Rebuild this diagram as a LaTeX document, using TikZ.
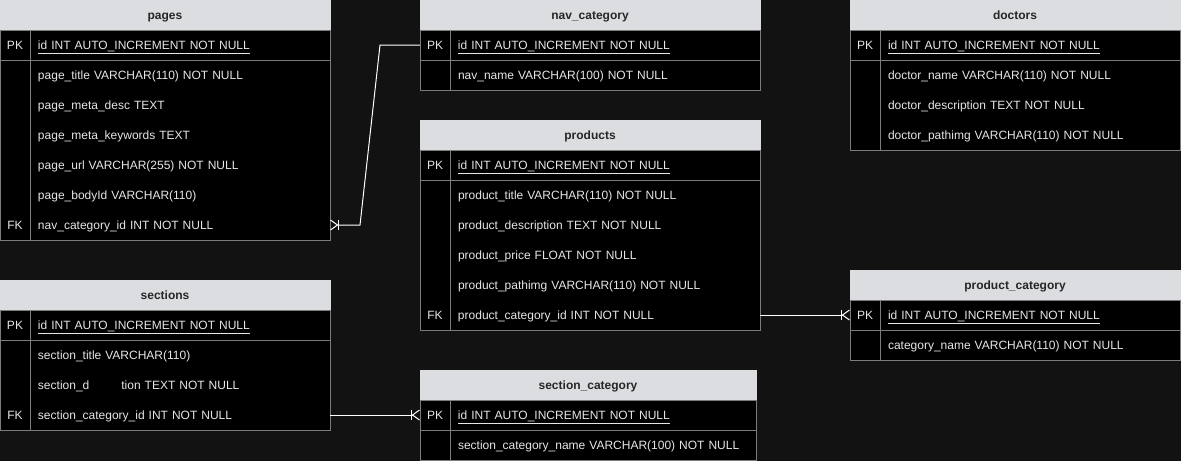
\documentclass[tikz,border=0pt]{standalone}
\usepackage{fontspec}
\setmainfont{Liberation Sans}
\usetikzlibrary{positioning, calc, arrows.meta}

\definecolor{canvas}{HTML}{121212}
\definecolor{headfill}{HTML}{DCDDE1}
\definecolor{gridline}{HTML}{7C7C7C}
\definecolor{fieldtext}{HTML}{E6E6E6}

% key column (PK / FK) followed by the field text
\newcommand{\keycol}[1]{\makebox[30pt]{#1}\hspace{8pt}}

\begin{document}
\begin{tikzpicture}[
  x=1pt, y=1pt,
  tblhead/.style={draw=headfill, fill=headfill, minimum width=#1, minimum height=30pt, inner sep=0pt, outer sep=0pt,
    text height=9pt, text depth=0pt, font=\fontsize{12}{14}\selectfont\bfseries, text=black!85, anchor=north west},
  tblhead/.default=330pt,
  fieldrow/.style={fill=black, text=fieldtext, minimum height=30pt, text width=#1, inner sep=0pt, outer sep=0pt,
    text height=9pt, text depth=0pt, align=left, font=\fontsize{12}{14}\selectfont},
  fieldrow/.default=330pt,
  tblline/.style={draw=gridline, line width=1pt},
  relation/.style={draw=white, line width=1pt},
  crow/.style={-{Bar[width=10pt,line width=1pt]Straight Barb[reversed,length=7pt,width=10pt,line width=1pt]}}
]
  \useasboundingbox[fill=canvas] (0,0) rectangle (1181,-461);

  % pages
  \node[tblhead] (pages) at (0,0) {pages};
  \node[fieldrow, below=0pt of pages] (pages-1) {\keycol{PK}\underline{id INT AUTO\_INCREMENT NOT NULL}};
  \node[fieldrow, below=0pt of pages-1] (pages-2) {\keycol{}page\_title VARCHAR(110) NOT NULL};
  \node[fieldrow, below=0pt of pages-2] (pages-3) {\keycol{}page\_meta\_desc TEXT};
  \node[fieldrow, below=0pt of pages-3] (pages-4) {\keycol{}page\_meta\_keywords TEXT};
  \node[fieldrow, below=0pt of pages-4] (pages-5) {\keycol{}page\_url VARCHAR(255) NOT NULL};
  \node[fieldrow, below=0pt of pages-5] (pages-6) {\keycol{}page\_bodyId VARCHAR(110)};
  \node[fieldrow, below=0pt of pages-6] (pages-7) {\keycol{FK}nav\_category\_id INT NOT NULL};

  % nav_category
  \node[tblhead=340pt] (nav) at (420,0) {nav\_category};
  \node[fieldrow=340pt, below=0pt of nav] (nav-1) {\keycol{PK}\underline{id INT AUTO\_INCREMENT NOT NULL}};
  \node[fieldrow=340pt, below=0pt of nav-1] (nav-2) {\keycol{}nav\_name VARCHAR(100) NOT NULL};

  % products
  \node[tblhead=340pt] (products) at (420,-120) {products};
  \node[fieldrow=340pt, below=0pt of products] (products-1) {\keycol{PK}\underline{id INT AUTO\_INCREMENT NOT NULL}};
  \node[fieldrow=340pt, below=0pt of products-1] (products-2) {\keycol{}product\_title VARCHAR(110) NOT NULL};
  \node[fieldrow=340pt, below=0pt of products-2] (products-3) {\keycol{}product\_description TEXT NOT NULL};
  \node[fieldrow=340pt, below=0pt of products-3] (products-4) {\keycol{}product\_price FLOAT NOT NULL};
  \node[fieldrow=340pt, below=0pt of products-4] (products-5) {\keycol{}product\_pathimg VARCHAR(110) NOT NULL};
  \node[fieldrow=340pt, below=0pt of products-5] (products-6) {\keycol{FK}product\_category\_id INT NOT NULL};

  % doctors
  \node[tblhead] (doctors) at (850,0) {doctors};
  \node[fieldrow, below=0pt of doctors] (doctors-1) {\keycol{PK}\underline{id INT AUTO\_INCREMENT NOT NULL}};
  \node[fieldrow, below=0pt of doctors-1] (doctors-2) {\keycol{}doctor\_name VARCHAR(110) NOT NULL};
  \node[fieldrow, below=0pt of doctors-2] (doctors-3) {\keycol{}doctor\_description TEXT NOT NULL};
  \node[fieldrow, below=0pt of doctors-3] (doctors-4) {\keycol{}doctor\_pathimg VARCHAR(110) NOT NULL};

  % product_category
  \node[tblhead] (prodcat) at (850,-270) {product\_category};
  \node[fieldrow, below=0pt of prodcat] (prodcat-1) {\keycol{PK}\underline{id INT AUTO\_INCREMENT NOT NULL}};
  \node[fieldrow, below=0pt of prodcat-1] (prodcat-2) {\keycol{}category\_name VARCHAR(110) NOT NULL};

  % sections
  \node[tblhead] (sections) at (0,-280) {sections};
  \node[fieldrow, below=0pt of sections] (sections-1) {\keycol{PK}\underline{id INT AUTO\_INCREMENT NOT NULL}};
  \node[fieldrow, below=0pt of sections-1] (sections-2) {\keycol{}section\_title VARCHAR(110)};
  \node[fieldrow, below=0pt of sections-2] (sections-3) {\keycol{}section\_d\phantom{escrip}tion TEXT NOT NULL};
  \node[fieldrow, below=0pt of sections-3] (sections-4) {\keycol{FK}section\_category\_id INT NOT NULL};

  % section_category
  \node[tblhead=336pt] (sectcat) at (420,-370) {section\_category};
  \node[fieldrow=336pt, below=0pt of sectcat] (sectcat-1) {\keycol{PK}\underline{id INT AUTO\_INCREMENT NOT NULL}};
  \node[fieldrow=336pt, below=0pt of sectcat-1] (sectcat-2) {\keycol{}section\_category\_name VARCHAR(100) NOT NULL};

  % table outlines, key column and the line under the PK row
  \draw[tblline] (pages-1.north west) rectangle (pages-7.south east);
  \draw[tblline] ([xshift=30pt]pages-1.north west) -- ([xshift=30pt]pages-7.south west);
  \draw[tblline] (pages-1.south west) -- (pages-1.south east);
  \draw[tblline] (nav-1.north west) rectangle (nav-2.south east);
  \draw[tblline] ([xshift=30pt]nav-1.north west) -- ([xshift=30pt]nav-2.south west);
  \draw[tblline] (nav-1.south west) -- (nav-1.south east);
  \draw[tblline] (products-1.north west) rectangle (products-6.south east);
  \draw[tblline] ([xshift=30pt]products-1.north west) -- ([xshift=30pt]products-6.south west);
  \draw[tblline] (products-1.south west) -- (products-1.south east);
  \draw[tblline] (doctors-1.north west) rectangle (doctors-4.south east);
  \draw[tblline] ([xshift=30pt]doctors-1.north west) -- ([xshift=30pt]doctors-4.south west);
  \draw[tblline] (doctors-1.south west) -- (doctors-1.south east);
  \draw[tblline] (prodcat-1.north west) rectangle (prodcat-2.south east);
  \draw[tblline] ([xshift=30pt]prodcat-1.north west) -- ([xshift=30pt]prodcat-2.south west);
  \draw[tblline] (prodcat-1.south west) -- (prodcat-1.south east);
  \draw[tblline] (sections-1.north west) rectangle (sections-4.south east);
  \draw[tblline] ([xshift=30pt]sections-1.north west) -- ([xshift=30pt]sections-4.south west);
  \draw[tblline] (sections-1.south west) -- (sections-1.south east);
  \draw[tblline] (sectcat-1.north west) rectangle (sectcat-2.south east);
  \draw[tblline] ([xshift=30pt]sectcat-1.north west) -- ([xshift=30pt]sectcat-2.south west);
  \draw[tblline] (sectcat-1.south west) -- (sectcat-1.south east);

  % relations
  \draw[relation, crow] (nav-1.west) -- ([xshift=-40pt]nav-1.west) -- ([xshift=30pt]pages-7.east) -- (pages-7.east);
  \draw[relation, crow] (products-6.east) -- (prodcat-1.west);
  \draw[relation, crow] (sections-4.east) -- (sectcat-1.west);
\end{tikzpicture}
\end{document}
